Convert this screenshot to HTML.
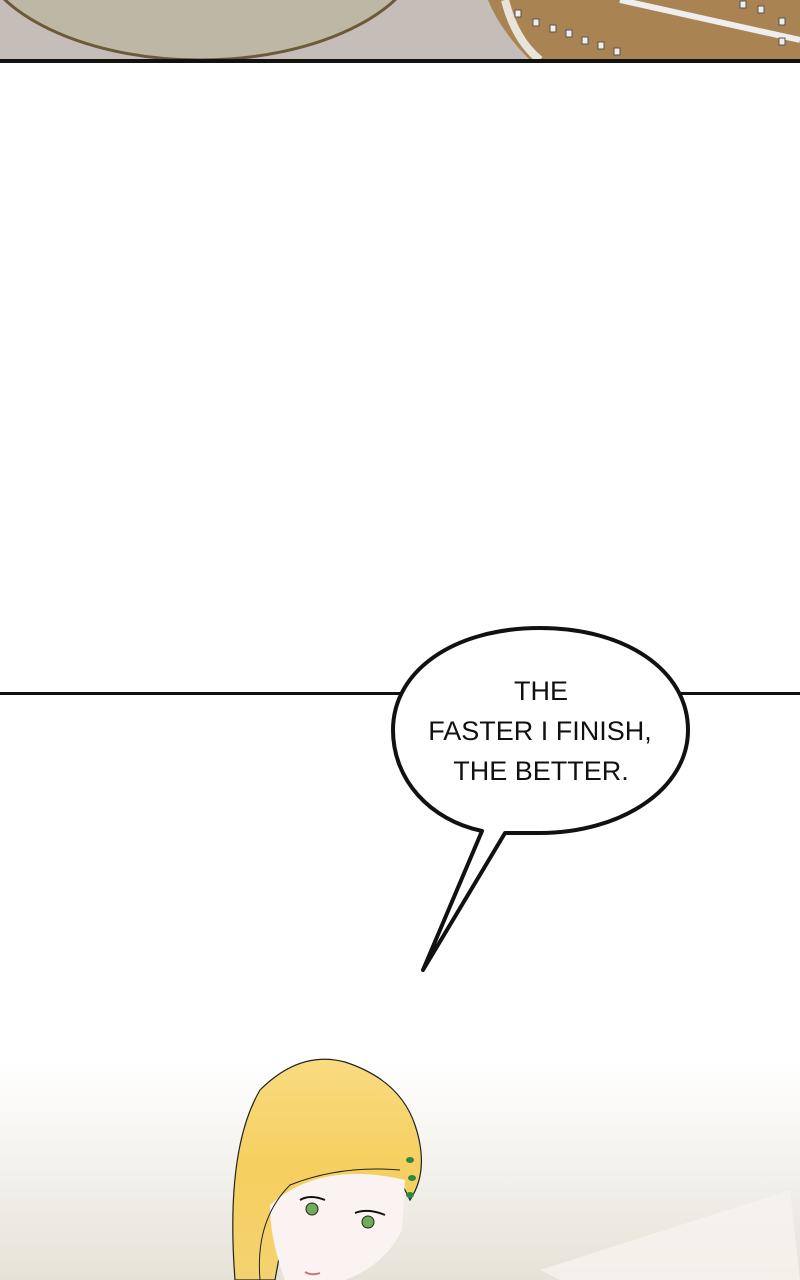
<!DOCTYPE html>
<html><head><style>
html,body{margin:0;padding:0;background:#fff;}
#c{position:relative;width:800px;height:1280px;overflow:hidden;background:#fff;}
</style></head><body><div id="c">
<svg width="800" height="1280" style="position:absolute;left:0;top:0">
<defs>
<linearGradient id="bg" x1="0" y1="0" x2="0" y2="1">
<stop offset="0" stop-color="#fff"/><stop offset="0.5" stop-color="#f3f1ec"/><stop offset="1" stop-color="#e6e2d8"/>
</linearGradient>
<linearGradient id="hair" x1="0" y1="0" x2="0" y2="1">
<stop offset="0" stop-color="#f9dc80"/><stop offset="0.5" stop-color="#f5cf5f"/><stop offset="1" stop-color="#f4d270"/>
</linearGradient>
</defs>
<!-- top panel -->
<rect x="0" y="0" width="800" height="60" fill="#c5beb8"/>
<ellipse cx="200" cy="-60" rx="225" ry="120" fill="#bdb7a6" stroke="#6b5a3a" stroke-width="3"/>
<path d="M488 0 L800 0 L800 60 L530 60 Q500 30 488 0Z" fill="#a98352"/>
<path d="M505 0 Q515 40 540 60" stroke="#e8e4da" stroke-width="8" fill="none"/>
<path d="M620 0 L800 40" stroke="#eee" stroke-width="6"/>
<g fill="#eee" stroke="#555" stroke-width="1">
<rect x="515" y="10" width="6" height="7"/><rect x="533" y="19" width="6" height="7"/><rect x="550" y="25" width="6" height="7"/><rect x="566" y="30" width="6" height="7"/><rect x="582" y="37" width="6" height="7"/><rect x="598" y="42" width="6" height="7"/><rect x="614" y="48" width="6" height="7"/>
<rect x="740" y="1" width="6" height="7"/><rect x="758" y="6" width="6" height="7"/><rect x="779" y="18" width="6" height="7"/><rect x="779" y="38" width="6" height="7"/>
</g>
<rect x="0" y="59" width="800" height="4" fill="#111"/>
<!-- line middle -->
<rect x="0" y="692" width="800" height="3" fill="#111"/>
<!-- bottom panel -->
<rect x="0" y="1060" width="800" height="220" fill="url(#bg)"/>
<path d="M540 1270 L790 1190 L800 1280 L560 1280Z" fill="#f6f3ee" opacity="0.8"/>
<!-- hair -->
<path d="M235 1280 Q225 1150 260 1090 Q300 1050 345 1062 Q400 1080 415 1125 Q430 1170 410 1200 L400 1180 Q340 1170 285 1225 L275 1280Z" fill="url(#hair)" stroke="#222" stroke-width="1.2"/>
<!-- face -->
<path d="M270 1205 Q320 1160 405 1180 L402 1230 Q385 1265 345 1280 L285 1280 Q270 1240 270 1205Z" fill="#fbf3f1"/>
<path d="M260 1280 Q255 1220 290 1185 Q340 1165 400 1170" fill="none" stroke="#222" stroke-width="1"/>
<circle cx="312" cy="1209" r="6" fill="#6fae58" stroke="#222"/>
<circle cx="368" cy="1222" r="6" fill="#6fae58" stroke="#222"/>
<path d="M300 1200 Q310 1194 325 1200 M355 1213 Q368 1208 385 1215" stroke="#111" stroke-width="2" fill="none"/>
<path d="M305 1272 Q312 1276 320 1273" stroke="#c77" stroke-width="2" fill="none"/>
<g fill="#2a8a40"><ellipse cx="410" cy="1160" rx="4" ry="3"/><ellipse cx="412" cy="1178" rx="4" ry="3"/><ellipse cx="410" cy="1195" rx="4" ry="3"/></g>
<!-- speech bubble -->
<path d="M540 628 C625 628 688 670 688 730 C688 790 620 833 540 833 L505 833 L423 970 L482 831 C430 820 393 780 393 730 C393 670 455 628 540 628Z" fill="#fff" stroke="#111" stroke-width="4" stroke-linejoin="round"/>
<g font-family="Liberation Sans, sans-serif" font-size="27" fill="#111" text-anchor="middle">
<text x="541" y="700">THE</text>
<text x="540" y="740">FASTER I FINISH,</text>
<text x="541" y="780">THE BETTER.</text>
</g>
</svg>
</div></body></html>
